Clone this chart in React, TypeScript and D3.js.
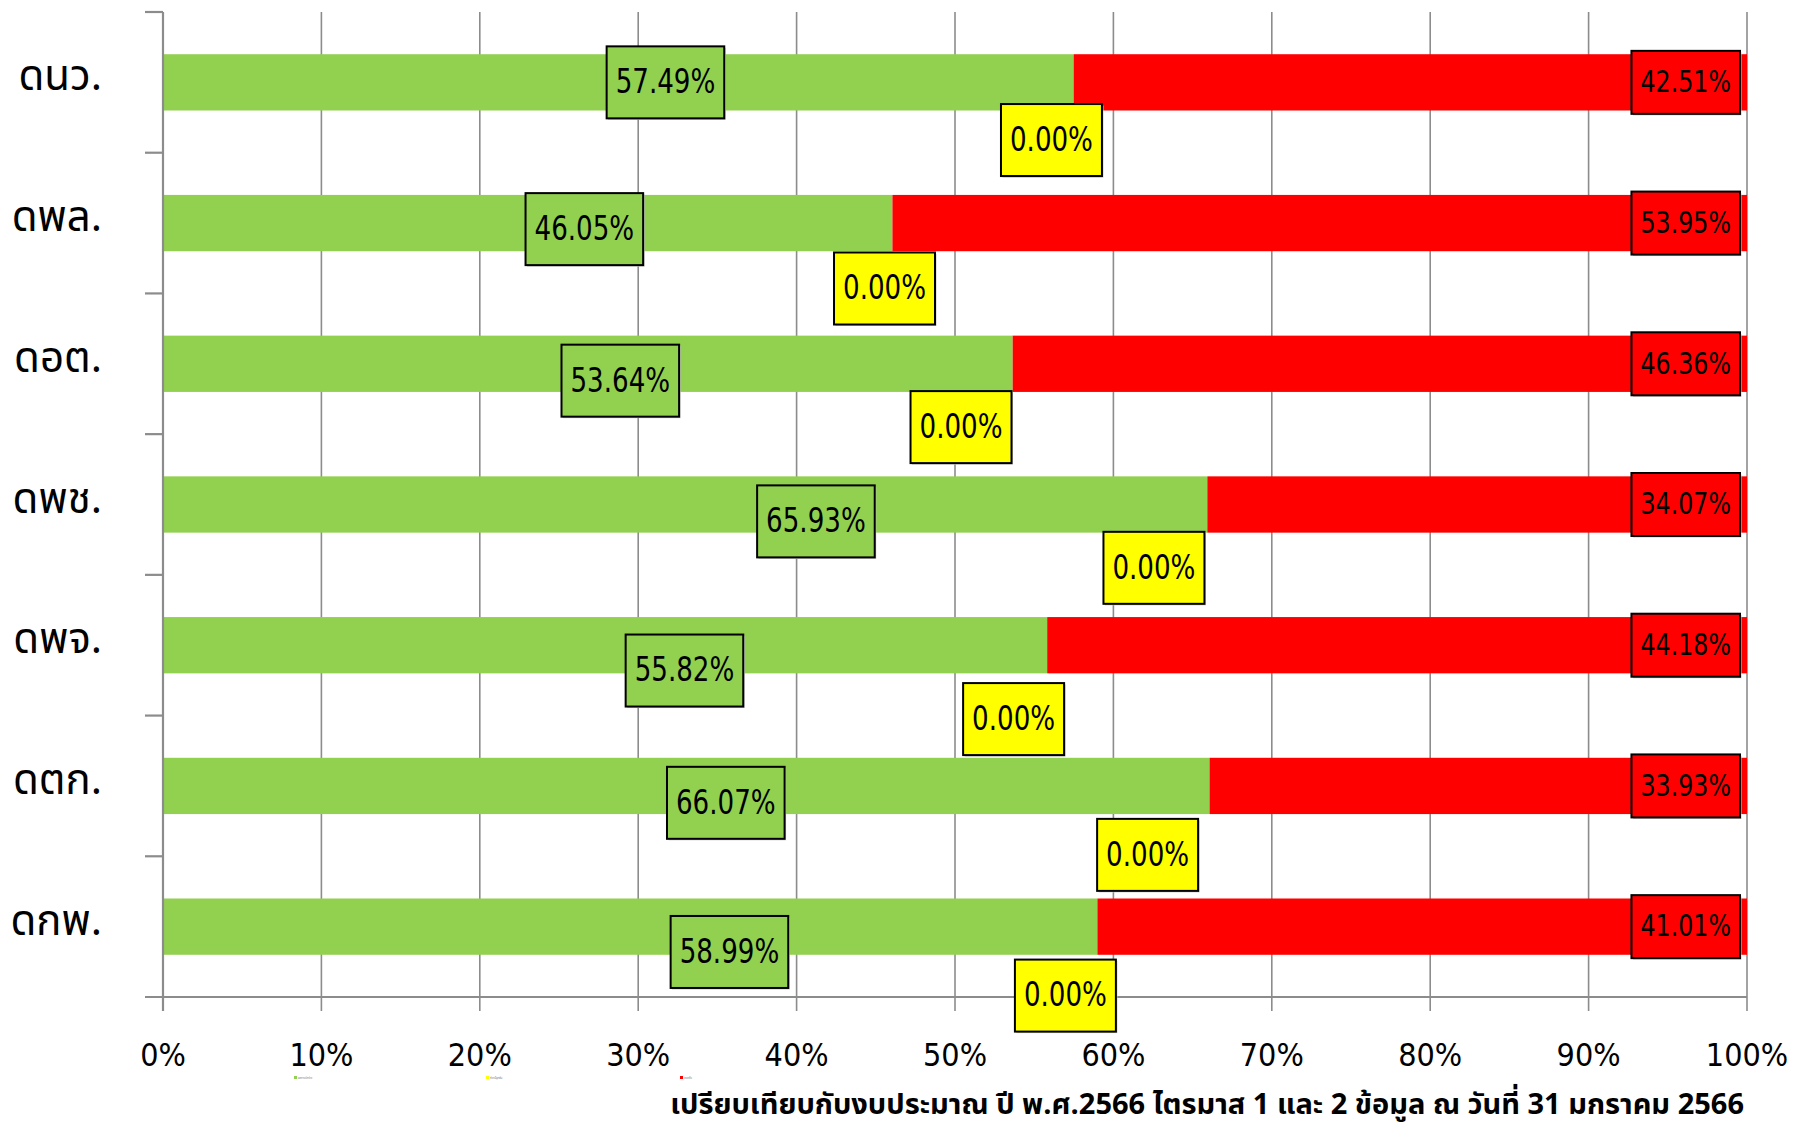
import React, { useEffect, useRef } from "react";
import * as d3 from "d3";

const categories = ["ดนว.", "ดพล.", "ดอต.", "ดพช.", "ดพจ.", "ดตก.", "ดกพ."];
const seriesNames = ["ผลการเบิกจ่าย", "ก่อหนี้ผูกพัน", "คงเหลือ"];
const disbursed = [57.49, 46.05, 53.64, 65.93, 55.82, 66.07, 58.99];
const committed = [0, 0, 0, 0, 0, 0, 0];
const remaining = [42.51, 53.95, 46.36, 34.07, 44.18, 33.93, 41.01];
const xTicks = [0, 10, 20, 30, 40, 50, 60, 70, 80, 90, 100];
const caption = "เปรียบเทียบกับงบประมาณ ปี พ.ศ.2566 ไตรมาส 1 และ 2 ข้อมูล ณ วันที่ 31 มกราคม 2566";

// manually placed data-label anchors (in axis % and band fraction), as in the source chart
const greenLabelX = [31.72, 26.6, 28.87, 41.22, 32.92, 35.53, 35.76];
const greenLabelDy = [0, 0.043, 0.12, 0.12, 0.18, 0.12, 0.18];
const yellowLabelX = [56.09, 45.55, 50.38, 62.56, 53.7, 62.16, 56.97];
const yellowLabelDy = [0.41, 0.465, 0.45, 0.45, 0.525, 0.49, 0.49];

const colors = ["#92D050", "#FFFF00", "#FF0000"];
const W = 1793;
const H = 1131;
const NUM_FONT = "'Liberation Sans Narrow', 'DejaVu Sans Condensed', 'Noto Sans', sans-serif";
const THAI_FONT = "'Noto Sans Thai', 'Noto Sans', 'DejaVu Sans', sans-serif";

export default function App() {
  const ref = useRef<SVGSVGElement | null>(null);

  useEffect(() => {
    const svg = d3.select(ref.current);
    svg.selectAll("*").remove();

    const x = d3.scaleLinear().domain([0, 100]).range([163, 1747]);
    const y = d3
      .scaleBand<string>()
      .domain(categories)
      .range([12, 997])
      .paddingInner(0.6)
      .paddingOuter(0.3);
    const step = y.step();
    const bandTop = (c: string) => (y(c) as number) - step * 0.3;
    const center = (c: string) => (y(c) as number) + y.bandwidth() / 2;
    const grid = "#8c8c8c";

    // vertical gridlines
    svg
      .append("g")
      .selectAll("line")
      .data(xTicks.slice(1))
      .join("line")
      .attr("x1", (d) => x(d))
      .attr("x2", (d) => x(d))
      .attr("y1", 12)
      .attr("y2", 1011)
      .attr("stroke", grid)
      .attr("stroke-width", 1.6);

    // bars (stacked)
    const stacked = categories.map((c, i) => {
      const vals = [disbursed[i], committed[i], remaining[i]];
      let acc = 0;
      return vals.map((v, k) => {
        const s = { c, k, x0: acc, x1: acc + v };
        acc += v;
        return s;
      });
    });
    svg
      .append("g")
      .selectAll("rect")
      .data(stacked.flat())
      .join("rect")
      .attr("x", (d) => x(d.x0))
      .attr("width", (d) => x(d.x1) - x(d.x0))
      .attr("y", (d) => y(d.c) as number)
      .attr("height", y.bandwidth())
      .attr("fill", (d) => colors[d.k]);

    // axes
    const ax = svg.append("g").attr("stroke", grid).attr("stroke-width", 2.2);
    ax.append("line").attr("x1", x(0)).attr("x2", x(0)).attr("y1", 12).attr("y2", 1011);
    ax.append("line").attr("x1", 145).attr("x2", x(100)).attr("y1", 997).attr("y2", 997);
    const boundaries = categories.map((c) => bandTop(c));
    ax.selectAll("line.yt")
      .data(boundaries)
      .join("line")
      .attr("class", "yt")
      .attr("x1", 145)
      .attr("x2", x(0))
      .attr("y1", (d) => d)
      .attr("y2", (d) => d);

    // x tick labels
    svg
      .append("g")
      .selectAll("text")
      .data(xTicks)
      .join("text")
      .attr("x", (d) => x(d))
      .attr("y", 1066)
      .attr("text-anchor", "middle")
      .attr("font-family", NUM_FONT)
      .attr("font-size", 32)
      .attr("fill", "#000")
      .text((d) => `${d}%`);

    // category labels
    svg
      .append("g")
      .selectAll("text")
      .data(categories)
      .join("text")
      .attr("x", 102)
      .attr("y", (d) => center(d) + 8)
      .attr("text-anchor", "end")
      .attr("font-family", THAI_FONT)
      .attr("font-size", 42)
      .attr("fill", "#000")
      .text((d) => d);

    // data labels
    const drawLabel = (
      cx: number,
      cy: number,
      txt: string,
      fill: string,
      fs: number,
      h: number,
      anchorRight?: number
    ) => {
      const g = svg.append("g");
      const t = g
        .append("text")
        .attr("font-family", NUM_FONT)
        .attr("font-size", fs)
        .attr("fill", "#000")
        .attr("text-anchor", "middle")
        .text(txt);
      const natural = (t.node() as SVGTextElement).getComputedTextLength();
      const tw = natural * 0.88;
      t.attr("textLength", tw).attr("lengthAdjust", "spacingAndGlyphs");
      const bw = tw + 18;
      let bx = cx - bw / 2;
      if (anchorRight !== undefined) bx = anchorRight - bw;
      const by = cy - h / 2;
      g.insert("rect", "text")
        .attr("x", bx + 1.5)
        .attr("y", by + 1.5)
        .attr("width", bw)
        .attr("height", h)
        .attr("fill", "#c8c8c8");
      g.insert("rect", "text")
        .attr("x", bx)
        .attr("y", by)
        .attr("width", bw)
        .attr("height", h)
        .attr("fill", fill)
        .attr("stroke", "#000")
        .attr("stroke-width", 2);
      t.attr("x", bx + bw / 2).attr("y", cy + fs * 0.36 - 1);
    };

    categories.forEach((c, i) => {
      drawLabel(
        x(greenLabelX[i]),
        center(c) + greenLabelDy[i] * step,
        `${disbursed[i].toFixed(2)}%`,
        colors[0],
        33,
        72
      );
      drawLabel(
        x(yellowLabelX[i]),
        center(c) + yellowLabelDy[i] * step,
        `${committed[i].toFixed(2)}%`,
        colors[1],
        33,
        72
      );
      drawLabel(0, center(c), `${remaining[i].toFixed(2)}%`, colors[2], 30, 63, x(100) - 7);
    });

    // tiny legend remnants
    const leg = svg.append("g");
    const legX = [294, 486, 680];
    seriesNames.forEach((n, k) => {
      leg.append("rect").attr("x", legX[k]).attr("y", 1076).attr("width", 3).attr("height", 3).attr("fill", colors[k]);
      leg
        .append("text")
        .attr("x", legX[k] + 4)
        .attr("y", 1079)
        .attr("font-size", 2.5)
        .attr("font-family", THAI_FONT)
        .attr("fill", "#777")
        .text(n);
    });

    // caption
    svg
      .append("text")
      .attr("x", 1744)
      .attr("y", 1114)
      .attr("text-anchor", "end")
      .attr("font-family", THAI_FONT)
      .attr("font-weight", "bold")
      .attr("font-size", 29)
      .attr("fill", "#000")
      .text(caption);
  }, []);

  return (
    <svg
      ref={ref}
      width={W}
      height={H}
      viewBox={`0 0 ${W} ${H}`}
      style={{ position: "absolute", left: 0, top: 0, background: "#fff" }}
    />
  );
}
